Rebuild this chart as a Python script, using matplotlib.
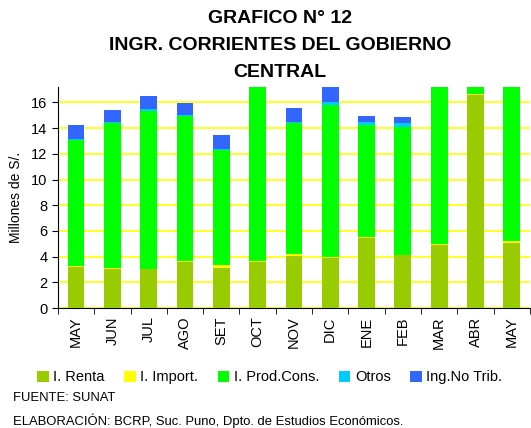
import matplotlib.pyplot as plt
import numpy as np

plt.rcParams['font.family'] = ['Liberation Sans', 'DejaVu Sans']

meses = ["MAY", "JUN", "JUL", "AGO", "SET", "OCT", "NOV", "DIC", "ENE", "FEB", "MAR", "ABR", "MAY"]
renta = [3.22, 3.01, 3.05, 3.55, 3.16, 3.55, 4.02, 3.87, 5.42, 4.10, 4.88, 16.55, 5.03]
importac = [0.08, 0.08, 0.02, 0.08, 0.16, 0.08, 0.16, 0.07, 0.08, 0.02, 0.07, 0.08, 0.16]
prod_cons = [9.75, 11.28, 12.23, 11.29, 8.95, 14.20, 10.19, 11.83, 8.72, 9.97, 13.40, 2.30, 12.90]
otros = [0.08, 0.08, 0.16, 0.10, 0.08, 0.10, 0.08, 0.23, 0.23, 0.28, 0.10, 0.10, 0.10]
ing_no_trib = [1.14, 0.98, 1.01, 0.96, 1.14, 1.00, 1.14, 1.20, 0.47, 0.47, 1.00, 1.00, 1.00]

series = [
    ("I. Renta", renta, "#99CC00"),
    ("I. Import.", importac, "#FFFF00"),
    ("I. Prod.Cons.", prod_cons, "#00FF00"),
    ("Otros", otros, "#00CCFF"),
    ("Ing.No Trib.", ing_no_trib, "#3366FF"),
]

fig = plt.figure(figsize=(5.31, 4.28), dpi=100)
ax = fig.add_axes([0.109, 0.280, 0.889, 0.517])

x = np.arange(len(meses))
base = np.zeros(len(meses))
for nombre, vals, color in series:
    ax.bar(x, vals, 0.46, bottom=base, color=color, label=nombre, zorder=3)
    base = base + np.array(vals)

ax.set_xlim(-0.5, len(meses) - 0.5)
ax.set_ylim(0, 17.2)
ax.set_yticks(range(0, 17, 2))
ax.yaxis.grid(True, color="#FFFF00", linewidth=1.2, zorder=0)
ax.set_xticks(x)
ax.set_xticklabels(meses, rotation=90, fontsize=10.5)
ax.tick_params(axis="x", length=0, pad=6)
ax.set_xticks(np.arange(-0.5, len(meses), 1), minor=True)
ax.tick_params(axis="x", which="minor", length=4, direction="out")
ax.tick_params(axis="y", labelsize=10.5, length=4, direction="out")
for s in ["top", "right"]:
    ax.spines[s].set_visible(False)
ax.set_ylabel("Millones de S/.", fontsize=10, labelpad=6)

titulo = ["GRAFICO N° 12", "INGR. CORRIENTES DEL GOBIERNO", "CENTRAL"]
for i, linea in enumerate(titulo):
    fig.text(0.527, 0.957 - i * 0.063, linea, ha="center", va="center",
             fontsize=14, fontweight="bold")

fig.legend(loc="center", bbox_to_anchor=(0.508, 0.118), ncol=5, frameon=False,
           fontsize=10.5, handlelength=0.8, handleheight=0.8, handletextpad=0.3,
           columnspacing=1.35)

fig.text(0.025, 0.070, "FUENTE: SUNAT", fontsize=9.4, va="center")
fig.text(0.025, 0.016, "ELABORACIÓN: BCRP, Suc. Puno, Dpto. de Estudios Económicos.",
         fontsize=9.4, va="center")

fig.savefig("out.png", dpi=100)
